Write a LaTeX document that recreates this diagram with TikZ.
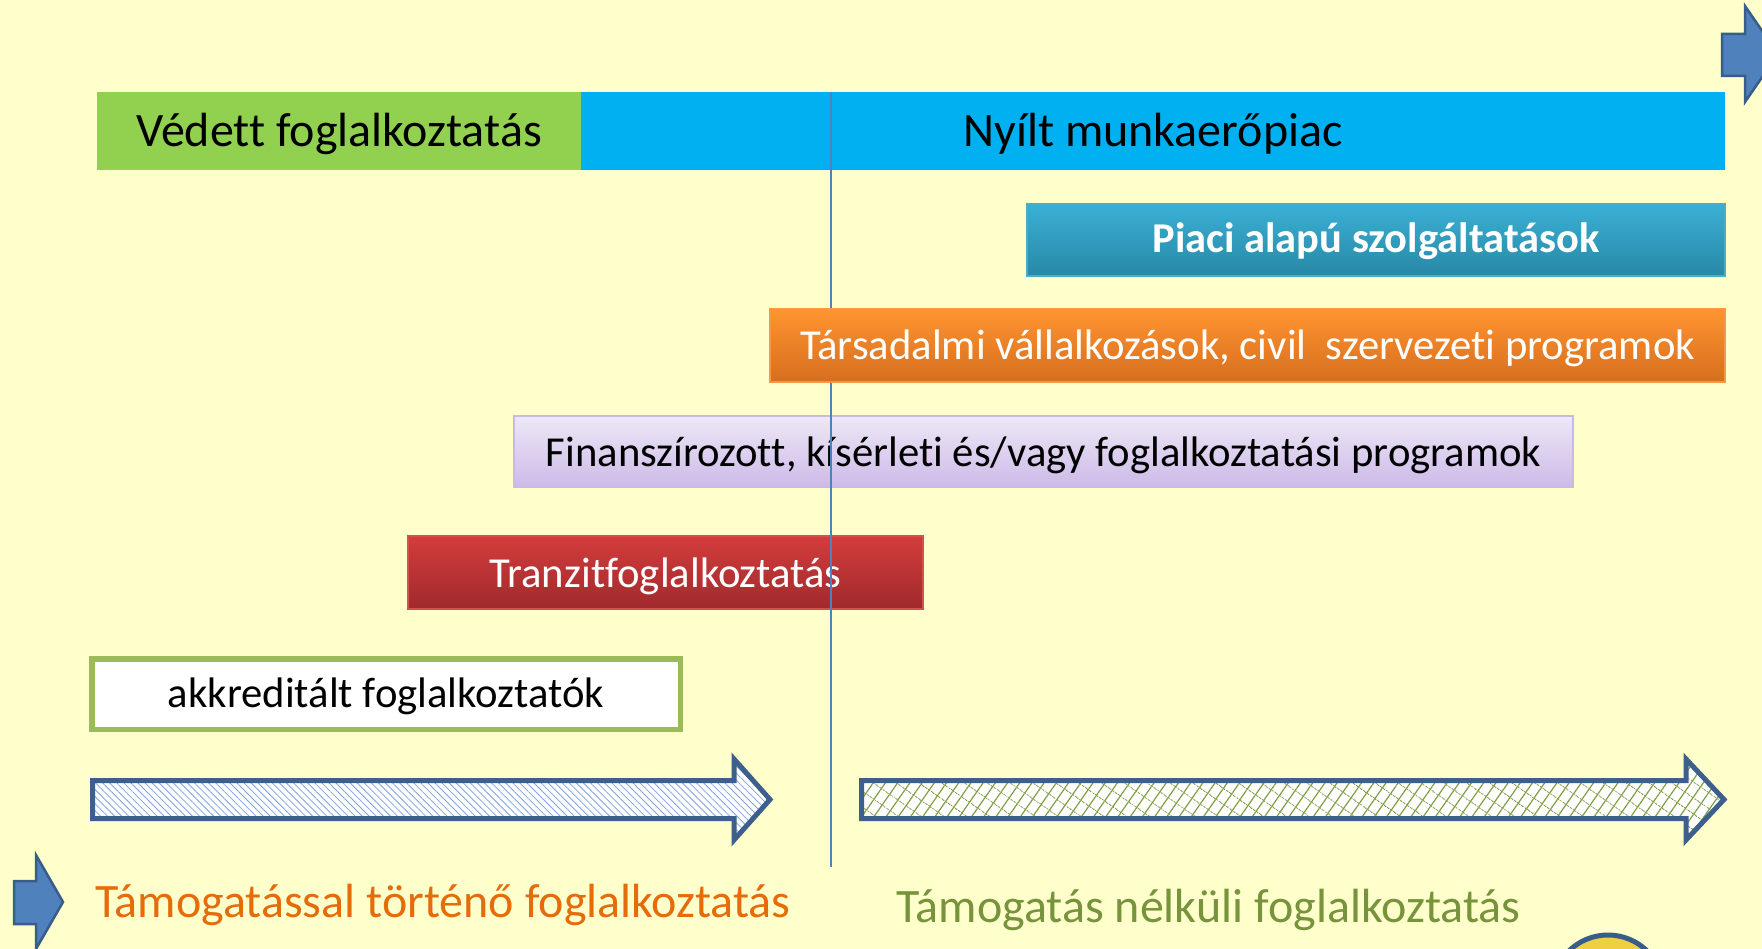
\documentclass[tikz,border=0pt]{standalone}
\usepackage{fontspec}
\setmainfont{Carlito}[Ligatures={NoCommon}]
\usetikzlibrary{patterns.meta}
\definecolor{bg}{HTML}{FFFFCC}
\definecolor{vgreen}{HTML}{92D050}
\definecolor{nblue}{HTML}{00B0F0}
\definecolor{linec}{HTML}{4F81BD}
\definecolor{arrfill}{HTML}{4F81BD}
\definecolor{arrdraw}{HTML}{385D8A}
\definecolor{hatchdraw}{HTML}{3C5F8D}
\definecolor{akkgreen}{HTML}{9BBB59}
\definecolor{txtorange}{HTML}{E46C0A}
\definecolor{txtgreen}{HTML}{77933C}
\definecolor{patgreen}{HTML}{7F9F45}
\definecolor{patblue}{HTML}{7FA3D8}
\tikzset{
  bigfont/.style={font=\fontsize{48}{54}\selectfont, text height=38pt, text depth=6.6pt},
  smallfont/.style={font=\fontsize{42.7}{50}\selectfont, text height=35pt, text depth=6pt},
  bar/.style={inner sep=0pt, anchor=center},
  gradbox/.style={bar, smallfont, line width=1.2pt, shading=axis},
  blockarrow/.style={fill=arrfill, draw=arrdraw, line width=2.5pt, line join=miter},
  hatcharrow/.style={draw=hatchdraw, line width=5pt, line join=miter},
  bottomtext/.style={anchor=base west, inner sep=0pt, font=\fontsize{48}{54}\selectfont}
}
\begin{document}
\begin{tikzpicture}[x=1pt,y=-1pt]
\useasboundingbox (0,0) rectangle (1762,949);
\fill[bg] (0,0) rectangle (1762,949);

% top bars
\node[bar, bigfont, fill=vgreen, minimum width=484pt, minimum height=78pt] (vedett) at (339,131) {Védett foglalkoztatás};
\node[bar, bigfont, fill=nblue, minimum width=1144pt, minimum height=78pt] (nyilt) at (1153,131) {Nyílt munkaerőpiac};

\node[gradbox, draw={rgb,255:red,75;green,172;blue,198}, top color={rgb,255:red,58;green,176;blue,212}, bottom color={rgb,255:red,40;green,136;blue,166}, text=white, font=\fontsize{42.5}{50}\selectfont\bfseries, text height=32pt, text depth=6pt, minimum width=698pt, minimum height=72pt] (piaci) at (1376,240) {Piaci alapú szolgáltatások};

% vertical divider
\coordinate (vtop) at (831,92);
\coordinate (vbot) at (831,867);
\node[gradbox, draw={rgb,255:red,200;green,185;blue,230}, top color={rgb,255:red,238;green,232;blue,246}, bottom color={rgb,255:red,204;green,186;blue,232}, minimum width=1059pt, minimum height=71pt] (fin) at (1043.5,451.5) {Finanszírozott, kísérleti és/vagy foglalkoztatási programok};
\node[gradbox, draw={rgb,255:red,210;green,80;blue,77}, top color={rgb,255:red,212;green,60;blue,60}, bottom color={rgb,255:red,160;green,42;blue,44}, text=white, minimum width=515pt, minimum height=73pt] (tranzit) at (665.5,572.5) {Tranzitfoglalkoztatás};
\draw[linec, line width=1.5pt] (vtop) -- (vbot);
\node[gradbox, draw={rgb,255:red,247;green,150;blue,70}, top color={rgb,255:red,255;green,148;blue,48}, bottom color={rgb,255:red,214;green,110;blue,30}, text=white, minimum width=955pt, minimum height=73pt] (tars) at (1247.5,345.5) {Társadalmi vállalkozások, civil\ \ szervezeti programok};

\node[bar, smallfont, text height=33.5pt, fill=white, draw=akkgreen, line width=5.5pt, minimum width=588.5pt, minimum height=70.5pt] (akk) at (386,694) {akkreditált foglalkoztatók};

% hatched arrows
\fill[white] (92.5,780.5) -- (734,780.5) -- (734,759) -- (770,799.5) -- (734,840) -- (734,818.5) -- (92.5,818.5) -- cycle;
\fill[pattern={Lines[angle=-45,distance=5pt,line width=0.8pt]}, pattern color=patblue] (92.5,780.5) -- (734,780.5) -- (734,759) -- (770,799.5) -- (734,840) -- (734,818.5) -- (92.5,818.5) -- cycle;
\draw[hatcharrow] (92.5,780.5) -- (734,780.5) -- (734,759) -- (770,799.5) -- (734,840) -- (734,818.5) -- (92.5,818.5) -- cycle;

\fill[white] (861.5,780.5) -- (1686,780.5) -- (1686,759) -- (1724,799.5) -- (1686,840) -- (1686,818.5) -- (861.5,818.5) -- cycle;
\fill[pattern={Lines[angle=55,distance=10pt,line width=1.2pt]}, pattern color=patgreen] (861.5,780.5) -- (1686,780.5) -- (1686,759) -- (1724,799.5) -- (1686,840) -- (1686,818.5) -- (861.5,818.5) -- cycle;
\fill[pattern={Lines[angle=-35,distance=13pt,line width=0.9pt]}, pattern color=patgreen] (861.5,780.5) -- (1686,780.5) -- (1686,759) -- (1724,799.5) -- (1686,840) -- (1686,818.5) -- (861.5,818.5) -- cycle;
\draw[hatcharrow] (861.5,780.5) -- (1686,780.5) -- (1686,759) -- (1724,799.5) -- (1686,840) -- (1686,818.5) -- (861.5,818.5) -- cycle;

% small block arrows
\draw[blockarrow] (1722,34) -- (1745,34) -- (1745,6) -- (1778,54) -- (1745,102) -- (1745,76) -- (1722,76) -- cycle;
\draw[blockarrow] (14,881) -- (36,881) -- (36,855) -- (63,902) -- (36,949) -- (36,924) -- (14,924) -- cycle;

% bottom texts
\node[bottomtext, text=txtorange] (tam1) at (95,917) {Támogatással történő foglalkoztatás};
\node[bottomtext, text=txtgreen] (tam2) at (896,922) {Támogatás nélküli foglalkoztatás};

% partial circle bottom right
\draw[fill={rgb,255:red,240;green,208;blue,64}, draw=arrdraw, line width=5pt] (1608,991) circle (56);
\end{tikzpicture}
\end{document}
